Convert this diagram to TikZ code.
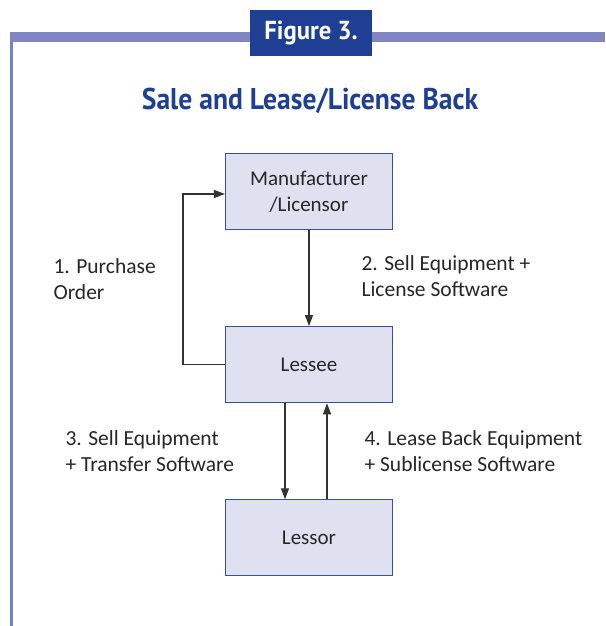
\documentclass[tikz,border=0pt]{standalone}
\usepackage{fontspec}
\setmainfont{Carlito}
\newfontfamily\headfont{PT Sans}
\usetikzlibrary{positioning}
\usetikzlibrary{arrows.meta}
\tikzset{>={Triangle[width=8pt,length=11pt]}}
\definecolor{barblue}{HTML}{8087C0}
\definecolor{lineblue}{HTML}{6C86C2}
\definecolor{darkblue}{HTML}{1F3F94}
\definecolor{boxfill}{HTML}{DFE1F1}
\definecolor{boxline}{HTML}{3352A2}
\definecolor{arrowgray}{HTML}{333333}
\tikzset{party/.style={draw=boxline, line width=1.2pt, fill=boxfill, minimum width=167pt, minimum height=76pt, align=center, font=\fontsize{21}{26}\selectfont, text=black!85}}
\tikzset{steplabel/.style={anchor=west, align=left, font=\fontsize{21.5}{26}\selectfont, text=black!85}}
\tikzset{flow/.style={draw=arrowgray, line width=1.3pt, ->}}

\begin{document}
\begin{tikzpicture}[x=1pt, y=1pt, node distance=96pt]
\useasboundingbox (0,0) rectangle (605,626);
% frame
\fill [barblue] (10,584) rectangle (605,594);
\fill [lineblue] (9.5,0) rectangle (12.5,584);
\node (fig) [fill=darkblue, minimum width=122pt, minimum height=46pt, text=white, font=\headfont\bfseries\fontsize{26}{30}\selectfont] at (311,592.5) {\scalebox{0.95}[1]{Figure 3.}};
\node (title) [text=darkblue, font=\headfont\bfseries\fontsize{30}{34}\selectfont] at (310,525) {\scalebox{0.92}[1]{Sale and Lease/License Back}};
% parties
\node (M) [party] at (309,434.5) {Manufacturer\\/Licensor};
\node (E) [party, below=of M] {Lessee};
\node (R) [party, below=of E] {Lessor};
\coordinate (loop) at (183,0);
% flows
\path [flow] (E.west) -| (loop |- E.west) |- ([yshift=-2.5pt]M.west);
\path [flow] (M.south) -- (E.north);
\path [flow] ([xshift=-24pt]E.south) -- ([xshift=-24pt]R.north);
\path [flow] ([xshift=18pt]R.north) -- ([xshift=18pt]E.south);
\node (l1) [steplabel] at (50,347) {1. Purchase\\Order};
\node (l2) [steplabel] at (358,350) {2. Sell Equipment +\\License Software};
\node (l3) [steplabel] at (62,175) {3. Sell Equipment\\+ Transfer Software};
\node (l4) [steplabel] at (361,175) {4. Lease Back Equipment\\+ Sublicense Software};
\end{tikzpicture}
\end{document}
